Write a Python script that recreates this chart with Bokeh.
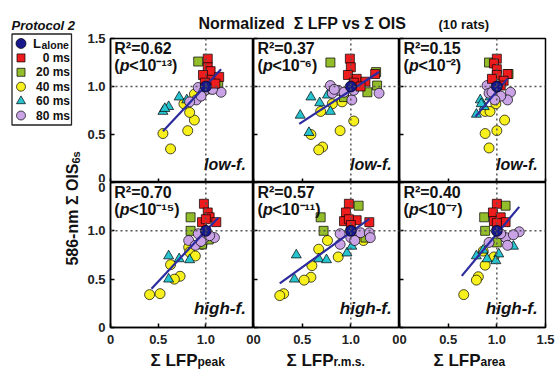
import numpy as np
from bokeh.plotting import figure
from bokeh.models import Range1d, FixedTicker, Span, Label
from bokeh.layouts import row, column
from bokeh.embed import file_html
from bokeh.resources import INLINE
from bokeh.core.properties import value

# ---------------- data ----------------
GROUPS = ["L alone", "0 ms", "20 ms", "40 ms", "60 ms", "80 ms"]
COLORS = ["#16188c", "#ee1c1c", "#93bd2a", "#f7f01c", "#27c3cf", "#c9a3e6"]
MARKERS = ["circle", "square", "square", "circle", "triangle", "circle"]
SIZES = [11, 9, 9, 10, 10, 10]
DRAW_ORDER = ["40 ms", "60 ms", "20 ms", "80 ms", "0 ms"]

X_NAMES = ["peak", "r.m.s.", "area"]
BANDS = ["low-f.", "high-f."]
R2 = ["0.62", "0.37", "0.15", "0.70", "0.57", "0.40"]
P_EXP = ["-13", "-6", "-2", "-15", "-11", "-7"]

FIT_SLOPE = [1.06, 0.66, 1.20, 1.05, 0.725, 1.21]
FIT_INTERCEPT = [-0.05, 0.30, -0.25, -0.05, 0.26, -0.24]
FIT_XMIN = [0.55, 0.47, 0.78, 0.43, 0.27, 0.64]
FIT_XMAX = [1.16, 1.29, 1.11, 1.13, 1.19, 1.23]

lowf_peak = {
    "L alone": ([1.0], [1.0]),
    "0 ms": ([1.02, 1.02, 1.05, 0.97, 1.06, 1.14, 0.99, 1.10], [1.29, 1.20, 1.16, 1.12, 1.07, 1.10, 1.04, 1.03]),
    "20 ms": ([0.92, 1.13, 1.04], [1.26, 1.01, 0.97]),
    "40 ms": ([0.55, 0.63, 0.81, 0.88, 0.83, 0.77, 0.88], [0.51, 0.35, 0.54, 0.65, 0.73, 0.82, 0.92]),
    "60 ms": ([0.55, 0.61, 0.72, 0.57, 0.80], [0.74, 0.79, 0.89, 0.77, 0.86]),
    "80 ms": ([0.92, 1.16, 0.90, 0.83, 0.98, 1.07, 0.95], [0.99, 0.94, 0.86, 0.84, 0.95, 0.97, 0.90]),
}
lowf_rms = {
    "L alone": ([1.0], [1.0]),
    "0 ms": ([0.99, 1.0, 0.97, 1.06, 1.15, 1.25, 1.03, 1.10], [1.29, 1.20, 1.12, 1.08, 1.05, 1.13, 1.04, 1.00]),
    "20 ms": ([0.79, 1.26, 1.27, 1.17, 0.93], [1.25, 1.15, 1.01, 0.94, 0.89]),
    "40 ms": ([0.81, 0.69, 1.03, 0.89, 0.59, 0.71, 0.67, 0.91], [0.82, 0.74, 0.64, 0.54, 0.50, 0.37, 0.34, 0.84]),
    "60 ms": ([0.48, 0.59, 0.68, 0.79, 0.76, 0.57], [0.70, 0.89, 0.83, 0.74, 0.91, 0.52]),
    "80 ms": ([0.79, 0.87, 0.81, 0.93, 1.01, 1.29, 1.03, 0.83], [1.01, 0.96, 0.93, 0.94, 0.86, 0.93, 0.96, 0.97]),
}
lowf_area = {
    "L alone": ([1.0], [1.0]),
    "0 ms": ([1.0, 0.97, 1.0, 1.0, 1.11, 1.07, 1.04, 0.95], [1.29, 1.24, 1.18, 1.12, 1.13, 1.06, 1.01, 1.08]),
    "20 ms": ([0.92, 1.12], [1.25, 1.13]),
    "40 ms": ([0.88, 0.99, 1.08, 0.88, 1.0, 0.92, 0.93], [0.74, 0.82, 0.65, 0.51, 0.54, 0.36, 0.74]),
    "60 ms": ([0.83, 0.87, 0.79, 0.93, 0.84], [0.86, 0.79, 0.71, 0.89, 0.82]),
    "80 ms": ([0.90, 0.92, 1.14, 1.11, 0.95, 1.04, 0.98], [1.01, 0.93, 0.94, 0.86, 0.94, 0.90, 0.86]),
}
highf_peak = {
    "L alone": ([1.0], [1.0]),
    "0 ms": ([0.98, 1.02, 1.04, 1.11, 0.96, 1.0], [1.28, 1.19, 1.14, 1.09, 1.09, 1.12]),
    "20 ms": ([0.84, 0.84, 0.96, 1.03], [1.14, 1.0, 0.86, 0.91]),
    "40 ms": ([0.82, 0.83, 0.89, 0.63, 0.73, 0.67, 0.41, 0.52, 0.96], [0.83, 0.78, 0.74, 0.65, 0.53, 0.50, 0.34, 0.35, 0.86]),
    "60 ms": ([0.61, 0.72, 0.83, 0.61, 0.96], [0.74, 0.71, 0.70, 0.50, 0.86]),
    "80 ms": ([0.92, 0.82, 1.09, 0.89, 0.99, 0.95, 1.04], [0.97, 0.90, 0.93, 0.85, 0.93, 0.89, 0.95]),
}
highf_rms = {
    "L alone": ([1.0], [1.0]),
    "0 ms": ([0.98, 0.95, 0.93, 1.06, 1.19, 0.98, 1.0], [1.28, 1.19, 1.10, 1.11, 1.09, 1.12, 1.06]),
    "20 ms": ([1.08, 0.69, 0.72, 1.15], [1.26, 1.14, 1.0, 0.93]),
    "40 ms": ([0.76, 0.67, 0.87, 0.60, 0.59, 0.52, 0.31, 0.27, 1.13], [0.90, 0.81, 0.73, 0.64, 0.52, 0.49, 0.35, 0.33, 0.90]),
    "60 ms": ([0.44, 0.67, 0.75, 0.42, 0.96, 1.01], [0.75, 0.71, 0.70, 0.50, 0.77, 0.84]),
    "80 ms": ([0.89, 1.10, 1.19, 1.20, 0.89, 1.0, 1.04], [0.97, 0.98, 0.98, 0.93, 0.86, 0.93, 0.90]),
}
highf_area = {
    "L alone": ([1.0], [1.0]),
    "0 ms": ([1.0, 0.96, 0.97, 1.04, 1.09, 1.0], [1.28, 1.19, 1.10, 1.14, 1.09, 1.08]),
    "20 ms": ([1.09, 0.87, 0.88, 1.0], [1.26, 1.14, 1.0, 0.88]),
    "40 ms": ([0.86, 0.97, 0.88, 0.81, 0.79, 0.66], [0.79, 0.73, 0.645, 0.525, 0.49, 0.34]),
    "60 ms": ([0.79, 0.90, 1.02, 1.17, 0.99, 0.86], [0.74, 0.71, 0.76, 0.84, 0.69, 0.80]),
    "80 ms": ([1.23, 1.09, 1.17, 0.92, 1.11, 1.04], [0.99, 0.93, 0.96, 0.88, 0.85, 0.97]),
}
PANELS = [lowf_peak, lowf_rms, lowf_area, highf_peak, highf_rms, highf_area]

# ---------------- style ----------------
F = "Liberation Sans"
SUP = str.maketrans("-0123456789", "⁻⁰¹²³⁴⁵⁶⁷⁸⁹")
TXT = "#111111"

FRAME_W = 146
FRAME_H = [144, 145]
LEFT_W = 84
BL, BR, BT, BB = 23, 11, 6, 22


def make_panel(idx):
    r, c = divmod(idx, 3)
    left, right, bottom = c == 0, c == 2, r == 1
    w = FRAME_W + (BL if left else 0) + (BR if right else 0)
    h = FRAME_H[r] + (BT if r == 0 else 0) + (BB if bottom else 0)
    p = figure(width=w, height=h, x_range=Range1d(0, 1.5), y_range=Range1d(0, 1.5),
               output_backend="svg", toolbar_location=None, title=None,
               min_border_left=BL if left else 0, min_border_right=BR if right else 0,
               min_border_top=BT if r == 0 else 0, min_border_bottom=BB if bottom else 0)
    p.xgrid.visible = False
    p.ygrid.visible = False
    p.outline_line_color = "black"
    p.outline_line_width = 1.5
    for ax in (p.xaxis[0], p.yaxis[0]):
        ax.ticker = FixedTicker(ticks=[0, 0.5, 1.0, 1.5])
        ax.major_tick_in = 4
        ax.major_tick_out = 0
        ax.minor_tick_in = 0
        ax.minor_tick_out = 0
        ax.axis_line_width = 1.5
        ax.major_tick_line_width = 1.5
        ax.major_label_text_font = F
        ax.major_label_text_font_style = "bold"
        ax.major_label_text_color = "#222222"
    xa, ya = p.xaxis[0], p.yaxis[0]
    if bottom:
        xa.major_label_overrides = {0: "0", 0.5: "0.5", 1.0: "1.0", 1.5: "1.5" if right else "0"}
        xa.major_label_text_font_size = "13px"
        xa.major_label_standoff = 7
    else:
        xa.major_label_text_font_size = "0px"
        xa.major_label_standoff = 0
    if left:
        ya.major_label_overrides = {0: "0", 0.5: "0.5", 1.0: "1.0", 1.5: "1.5" if r == 0 else "0"}
        ya.major_label_text_font_size = "13px"
        ya.major_label_standoff = 5
    else:
        ya.major_label_text_font_size = "0px"
        ya.major_label_standoff = 0

    for dim in ("height", "width"):
        p.add_layout(Span(location=1.0, dimension=dim, line_color="#555555",
                          line_width=1.5, line_dash="2 3"))

    data = PANELS[idx]
    for g in DRAW_ORDER:
        k = GROUPS.index(g)
        xs, ys = data[g]
        p.scatter(xs, ys, marker=MARKERS[k], size=SIZES[k], fill_color=COLORS[k],
                  line_color="black", line_width=0.7)
    fx = np.array([FIT_XMIN[idx], FIT_XMAX[idx]])
    p.line(fx, FIT_SLOPE[idx] * fx + FIT_INTERCEPT[idx], line_color="#2b2b9e", line_width=2.2)
    xs, ys = data[GROUPS[0]]
    p.scatter(xs, ys, marker=MARKERS[0], size=SIZES[0], fill_color=COLORS[0],
              line_color="black", line_width=0.7)

    ytxt = 1.31
    p.add_layout(Label(x=0.04, y=ytxt, text="R²=" + R2[idx], text_font=F,
                       text_font_style="bold", text_font_size="16px", text_color=TXT))
    yp = 1.13
    p.add_layout(Label(x=0.04, y=yp, text="(", text_font=F,
                       text_font_style="bold", text_font_size="16px", text_color=TXT))
    p.add_layout(Label(x=0.04, y=yp, x_offset=5.5, text="p", text_font=F,
                       text_font_style="bold italic", text_font_size="16px", text_color=TXT))
    p.add_layout(Label(x=0.04, y=yp, x_offset=15, text="<10" + P_EXP[idx].translate(SUP) + ")",
                       text_font=F, text_font_style="bold", text_font_size="16px",
                       text_color=TXT))
    p.add_layout(Label(x=1.42, y=0.1, text=BANDS[r], text_align="right", text_font=F,
                       text_font_style="bold italic", text_font_size="16px" if r == 0 else "17px",
                       text_color=TXT))
    return p


panels = [make_panel(i) for i in range(6)]


def deco(width, height, xr, yr):
    f = figure(width=width, height=height, x_range=Range1d(*xr), y_range=Range1d(*yr),
               output_backend="svg", toolbar_location=None, title=None, min_border=0)
    f.axis.visible = False
    f.grid.visible = False
    f.outline_line_color = None
    return f


RIGHT_W = 556 - LEFT_W
# title strip (page pixels)
tf = deco(RIGHT_W, 32, (LEFT_W, 556), (32, 0))
tf.text(x=[198], y=[23], text=["Normalized\u00a0 Σ LFP vs Σ OIS"], text_font=value(F),
        text_font_style="bold", text_font_size="16px", text_baseline="middle",
        text_color=TXT)
tf.text(x=[438], y=[24], text=["(10 rats)"], text_font=value(F), text_font_style="bold",
        text_font_size="13px", text_baseline="middle", text_color=TXT)

# x-axis titles strip
xf = deco(RIGHT_W, 23, (LEFT_W, 556), (372, 349))
JUNCTION = [197, 333, 480]
xf.text(x=JUNCTION, y=[360] * 3, text=["Σ LFP"] * 3, text_font=value(F), text_font_style="bold",
        text_font_size="17px", text_baseline="middle", text_align="right", text_color=TXT)
xf.text(x=JUNCTION, y=[361.5] * 3, text=X_NAMES, text_font=value(F), text_font_style="bold",
        text_font_size="12px", text_baseline="middle", text_align="left", text_color=TXT)

# left: legend + y label
lf = deco(LEFT_W, 372, (0, LEFT_W), (372, 0))
lf.text(x=[11], y=[25], text=["Protocol 2"], text_font=value(F), text_font_style="bold italic",
        text_font_size="13px", text_baseline="middle", text_color=TXT)
lf.quad(left=[11.5], right=[71], top=[33.5], bottom=[124.5], fill_color="white",
        line_color="#222222", line_width=1.3)
leg_y = [43 + 14.4 * i for i in range(len(GROUPS))]
for k, g in enumerate(GROUPS):
    lf.scatter([20.5], [leg_y[k]], marker=MARKERS[k], size=SIZES[k] - 1, fill_color=COLORS[k],
               line_color="black", line_width=0.7)
lf.text(x=[32.5], y=[leg_y[0]], text=["L"], text_font=value(F), text_font_style="bold",
        text_font_size="13px", text_baseline="middle", text_color=TXT)
lf.text(x=[41], y=[leg_y[0] + 1], text=["alone"], text_font=value(F), text_font_style="bold",
        text_font_size="10.5px", text_baseline="middle", text_color=TXT)
lf.text(x=[69.5] * 5, y=leg_y[1:], text=GROUPS[1:], text_font=value(F), text_font_style="bold",
        text_font_size="12px", text_baseline="middle", text_align="right", text_color=TXT)
lf.text(x=[72], y=[163], text=["586-nm Σ OIS"], angle=np.pi / 2, text_align="right",
        text_baseline="middle", text_font=value(F), text_font_style="bold",
        text_font_size="16px", text_color=TXT)
lf.text(x=[75], y=[163], text=["6s"], angle=np.pi / 2, text_align="left",
        text_baseline="middle", text_font=value(F), text_font_style="bold",
        text_font_size="11px", text_color=TXT)

layout = row(lf, column(tf, row(*panels[:3]), row(*panels[3:]), xf))
open("out.html", "w").write(file_html(layout, INLINE))
